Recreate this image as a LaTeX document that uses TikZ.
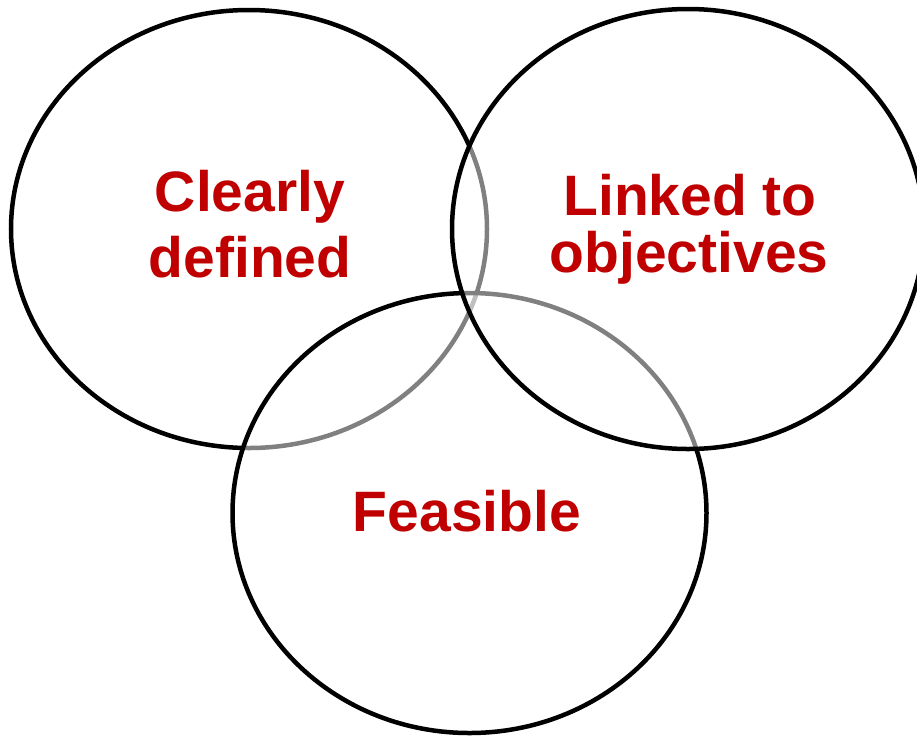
\documentclass[tikz,border=0pt]{standalone}
\usepackage{fontspec}
\setmainfont{Liberation Sans}
\definecolor{labelred}{RGB}{192,0,0}
\tikzset{
  venn/.style={draw=black, line width=4.5pt, fill=white, fill opacity=0.5, draw opacity=1},
  vlabel/.style={anchor=base, text=labelred, inner sep=0pt, font=\fontsize{57}{60}\selectfont\bfseries}
}
\begin{document}
\begin{tikzpicture}[x=1pt, y=-1pt]
\clip (0,0) rectangle (917,736);
\fill[white] (0,0) rectangle (917,736);
\path[venn] (249,229) ellipse [x radius=238pt, y radius=219pt];
\path[venn] (469.5,513) ellipse [x radius=237pt, y radius=220pt];
\path[venn] (688,229) ellipse [x radius=236pt, y radius=220pt];
\node[vlabel] (c1) at (250,211) {Clearly};
\node[vlabel] (c2) at (250,277) {defined};
\node[vlabel] (l1) at (690,215) {Linked to};
\node[vlabel] (l2) at (689,272) {objectives};
\node[vlabel] (f1) at (467,531) {Feasible};
\end{tikzpicture}
\end{document}
